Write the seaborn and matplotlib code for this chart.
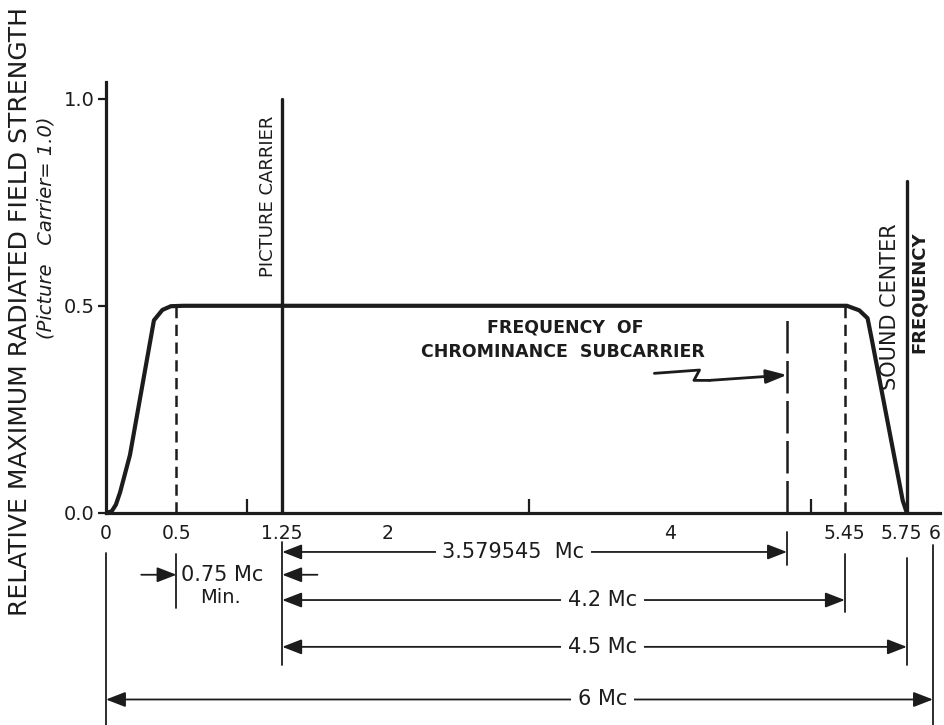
import matplotlib
matplotlib.use("Agg")
import matplotlib.pyplot as plt
import matplotlib.transforms as mtransforms
import numpy as np
import pandas as pd
import seaborn as sns

# Video channel response (frequency in Mc, relative level)
curve_freq = [0, 0.04, 0.07, 0.10, 0.17, 0.34, 0.40, 0.46, 0.55,
              5.46, 5.52, 5.56, 5.58, 5.73, 5.75]
curve_level = [0, 0.004, 0.02, 0.05, 0.14, 0.465, 0.49, 0.499, 0.5,
               0.5, 0.489, 0.47, 0.42, 0.03, 0]

picture_carrier = 1.25
picture_level = 1.0
sound_carrier = 5.75
sound_level = 0.80
chroma_freq = picture_carrier + 3.579545
chroma_level = 0.48
band_edges = [0.5, 5.45]

tick_pos = [0, 0.5, 1.25, 2, 4, 5.45, 5.75, 6]
tick_labels = ["0", "0.5", "1.25", "2", "4", "5.45", "5.75", "6"]
minor_ticks = [1, 2, 3, 4, 5]

# the frequency axis of the drawing is not to scale above 5 Mc
scale_true = [-1, 0, 5, 5.45, 5.75, 6, 7]
scale_drawn = [-1, 0, 5, 5.24, 5.68, 5.865, 6.865]

# dimension lines below the axis
dim_start = [1.25, 1.25, 1.25, 0]
dim_end = [chroma_freq, 5.45, 5.75, 6]
dim_row = [-0.094, -0.21, -0.323, -0.45]
dim_text = ["3.579545  Mc", "4.2 Mc", "4.5 Mc", "6 Mc"]
dim_text_x = [2.89, 3.52, 3.52, 3.52]

ext_x = [0, 0.5, 1.25, chroma_freq, 5.45, 5.75, 6]
ext_top = [-0.096, -0.10, -0.07, -0.046, -0.10, -0.108, -0.077]
ext_bottom = [-0.52, -0.229, -0.366, -0.125, -0.239, -0.366, -0.52]

# squiggly pointer to the chrominance subcarrier (offsets from the subcarrier)
squiggle_dx = [-0.94, -0.62, -0.66, -0.55, 0]
squiggle_y = [0.337, 0.345, 0.32, 0.32, 0.333]

ink = "#1c1c1c"

sns.set_theme(style="ticks")
plt.rcParams["font.family"] = ["DejaVu Sans"]

W, H = 945, 725
fig = plt.figure(figsize=(W / 100, H / 100), dpi=100)
ax = fig.add_axes([106 / W, 212 / H, (940 - 106) / W, 431 / H])

df = pd.DataFrame({"freq": curve_freq, "level": curve_level})
sns.lineplot(data=df, x="freq", y="level", ax=ax, color=ink, lw=3,
             solid_capstyle="round", solid_joinstyle="round", zorder=3)

ax.set_xscale("function", functions=(
    lambda x: np.interp(x, scale_true, scale_drawn),
    lambda x: np.interp(x, scale_drawn, scale_true)))

# carriers
ax.plot([picture_carrier, picture_carrier], [0, picture_level], color=ink, lw=2.4)
ax.plot([sound_carrier, sound_carrier], [0, sound_level], color=ink, lw=2.4)
for x in band_edges:
    ax.plot([x, x], [0, 0.5], color=ink, lw=1.8, ls=(0, (4.5, 2.6)))
ax.plot([chroma_freq, chroma_freq], [0, chroma_level], color=ink, lw=1.8,
        ls=(0, (13, 3)))

ax.set_xlim(0, 6.05)
ax.set_ylim(0, 1.04)
ax.set_xlabel("")
ax.set_ylabel("")
sns.despine(ax=ax)
for s in ("left", "bottom"):
    ax.spines[s].set_linewidth(2.3)
    ax.spines[s].set_color(ink)

ax.set_xticks(tick_pos)
ax.set_xticklabels(tick_labels)
ax.set_xticks(minor_ticks, minor=True)
ax.tick_params(axis="x", which="major", length=0, pad=8, labelsize=13.5, colors=ink)
ax.tick_params(axis="x", which="minor", direction="in", length=10, width=1.6, color=ink)
ax.set_yticks([0, 0.5, 1.0])
ax.set_yticklabels(["0.0", "0.5", "1.0"])
ax.tick_params(axis="y", length=6, width=1.6, pad=2, labelsize=14, colors=ink)

# the last two frequency labels sit close together: nudge them apart
nudge = {"5.75": -6, "6": 2}
for lab in ax.get_xticklabels():
    dx = nudge.get(lab.get_text(), 0)
    if dx:
        lab.set_transform(lab.get_transform() +
                          mtransforms.ScaledTranslation(dx / 100, 0, fig.dpi_scale_trans))

# labels in the plot
ax.text(1.21, 0.57, "PICTURE CARRIER", rotation=90, ha="right", va="bottom",
        fontsize=13, color=ink)
ax.text(sound_carrier - 0.035, 0.70, "SOUND CENTER", rotation=90, ha="right",
        va="top", fontsize=15, color=ink)
ax.text(sound_carrier + 0.025, 0.68, "FREQUENCY", rotation=90, ha="left",
        va="top", fontsize=13, fontweight="bold", color=ink)
ax.text(3.26, 0.448, "FREQUENCY  OF", ha="center", va="center",
        fontsize=12.5, fontweight="bold", color=ink)
ax.text(3.24, 0.388, "CHROMINANCE  SUBCARRIER", ha="center", va="center",
        fontsize=12.5, fontweight="bold", color=ink)

sq_x = [chroma_freq + d for d in squiggle_dx]
ax.plot(sq_x[:-1], squiggle_y[:-1], color=ink, lw=2, solid_joinstyle="round")
ax.annotate("", xy=(sq_x[-1], squiggle_y[-1]), xytext=(sq_x[-2], squiggle_y[-2]),
            arrowprops=dict(arrowstyle="-|>,head_length=0.9,head_width=0.3",
                            color=ink, lw=2, shrinkA=0, shrinkB=0,
                            mutation_scale=14))

# dimension lines
arrow = "<|-|>,head_length=0.85,head_width=0.33"
for x, y0, y1 in zip(ext_x, ext_top, ext_bottom):
    ax.plot([x, x], [y0, y1], color=ink, lw=1.3, clip_on=False)
for x0, x1, y, label, lx in zip(dim_start, dim_end, dim_row, dim_text, dim_text_x):
    ax.annotate("", xy=(x1, y), xytext=(x0, y), annotation_clip=False,
                arrowprops=dict(arrowstyle=arrow, color=ink, lw=1.3,
                                shrinkA=0, shrinkB=0, mutation_scale=14))
    ax.text(lx, y, label, ha="center", va="center", fontsize=15, color=ink,
            clip_on=False, bbox=dict(fc="white", ec="none", pad=5), zorder=5)

# 0.75 Mc minimum: arrows pointing in from outside
row = -0.149
single = "-|>,head_length=0.85,head_width=0.33"
ax.annotate("", xy=(0.5, row), xytext=(0.25, row), annotation_clip=False,
            arrowprops=dict(arrowstyle=single, color=ink, lw=1.3,
                            shrinkA=0, shrinkB=0, mutation_scale=14))
ax.annotate("", xy=(1.25, row), xytext=(1.50, row), annotation_clip=False,
            arrowprops=dict(arrowstyle=single, color=ink, lw=1.3,
                            shrinkA=0, shrinkB=0, mutation_scale=14))
ax.text(0.53, row, "0.75 Mc", ha="left", va="center", fontsize=15, color=ink,
        clip_on=False)
ax.text(0.67, -0.205, "Min.", ha="left", va="center", fontsize=14, color=ink,
        clip_on=False)

# y axis title, two lines
fig.text(20 / W, 1 - 312 / H, "RELATIVE MAXIMUM RADIATED FIELD STRENGTH",
         rotation=90, ha="center", va="center", fontsize=18, color=ink)
fig.text(46 / W, 1 - 228 / H, "(Picture   Carrier= 1.0)", rotation=90,
         ha="center", va="center", fontsize=14, style="italic", color=ink)

fig.savefig("out.png", dpi=100)
